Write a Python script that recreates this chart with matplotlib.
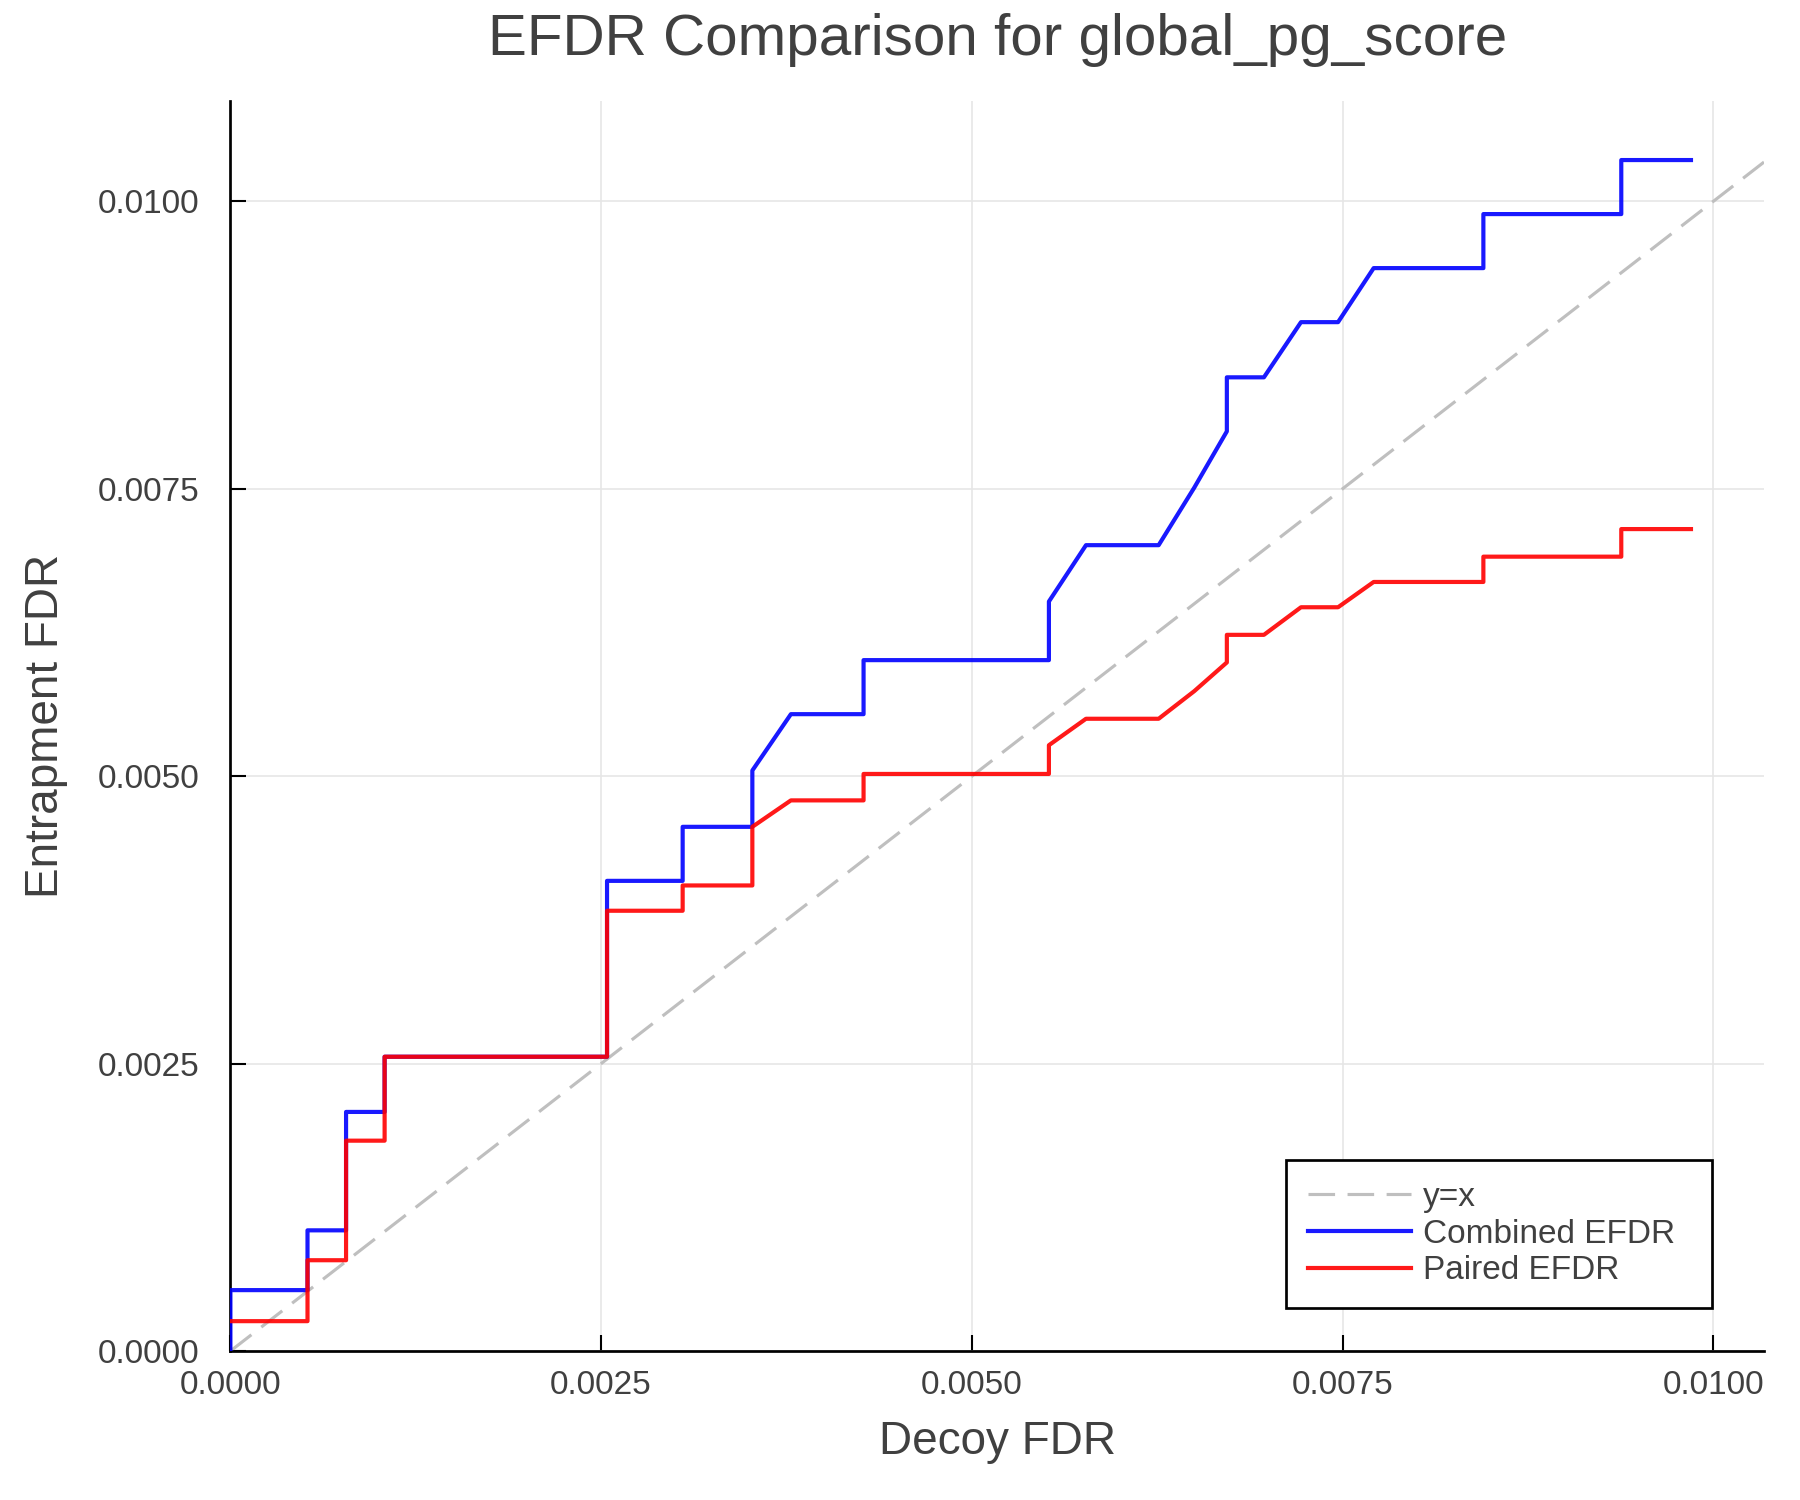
import matplotlib
matplotlib.use("Agg")
import matplotlib.pyplot as plt
import numpy as np

plt.rcParams['font.family'] = ['Liberation Sans', 'DejaVu Sans']

# data
combined_x = [0.0, 0.0, 0.00052, 0.00052, 0.00078, 0.00078, 0.00104, 0.00104,
              0.00254, 0.00254, 0.00305, 0.00305, 0.00352, 0.00352, 0.00378,
              0.00427, 0.00427, 0.00552, 0.00552, 0.00577, 0.00626, 0.00650,
              0.00672, 0.00672, 0.00697, 0.00722, 0.00747, 0.00771, 0.00845,
              0.00845, 0.00938, 0.00938, 0.00985]
combined_y = [0.0, 0.00053, 0.00053, 0.00105, 0.00105, 0.00208, 0.00208, 0.00256,
              0.00256, 0.00409, 0.00409, 0.00456, 0.00456, 0.00505, 0.00554,
              0.00554, 0.00601, 0.00601, 0.00652, 0.00701, 0.00701, 0.00751,
              0.00800, 0.00847, 0.00847, 0.00895, 0.00895, 0.00942, 0.00942,
              0.00989, 0.00989, 0.01036, 0.01036]

paired_x = [0.0, 0.00052, 0.00052, 0.00078, 0.00078, 0.00104, 0.00104, 0.00254,
            0.00254, 0.00305, 0.00305, 0.00352, 0.00352, 0.00378, 0.00427,
            0.00427, 0.00552, 0.00552, 0.00577, 0.00626, 0.00650, 0.00672,
            0.00672, 0.00697, 0.00722, 0.00747, 0.00771, 0.00845, 0.00845,
            0.00938, 0.00938, 0.00985]
paired_y = [0.00026, 0.00026, 0.00079, 0.00079, 0.00183, 0.00183, 0.00256, 0.00256,
            0.00383, 0.00383, 0.00405, 0.00405, 0.00456, 0.00479, 0.00479,
            0.00502, 0.00502, 0.00527, 0.00550, 0.00550, 0.00574, 0.00599,
            0.00623, 0.00623, 0.00647, 0.00647, 0.00669, 0.00669, 0.00691,
            0.00691, 0.00715, 0.00715]

ticks = [0.0, 0.0025, 0.005, 0.0075, 0.01]
tick_labels = ["0.0000", "0.0025", "0.0050", "0.0075", "0.0100"]

xmax = max(combined_x) * 1.05
ymax = max(combined_y) * 1.05
diag = [0.0, xmax]

txt = '#404040'

fig = plt.figure(figsize=(12, 10), dpi=150)
ax = fig.add_axes([0.128, 0.0993, 0.852, 0.8337])

ax.grid(True, color='#e6e6e6', lw=0.8, zorder=0)
ref, = ax.plot(diag, diag, color='#bfbfbf', lw=1.5, label='y=x', zorder=2)
ref.set_dashes([8.5, 4.0])
ax.plot(combined_x, combined_y, color='blue', alpha=0.9, lw=2.0,
        label='Combined EFDR', zorder=3)
ax.plot(paired_x, paired_y, color='red', alpha=0.9, lw=2.0,
        label='Paired EFDR', zorder=4)

ax.set_xlim(0, xmax)
ax.set_ylim(0, ymax)
ax.set_xticks(ticks)
ax.set_xticklabels(tick_labels)
ax.set_yticks(ticks)
ax.set_yticklabels(tick_labels)

for side in ['top', 'right']:
    ax.spines[side].set_visible(False)
for side in ['left', 'bottom']:
    ax.spines[side].set_linewidth(1.3)
ax.tick_params(axis='both', direction='in', length=7.5, width=1.0,
               labelsize=16, labelcolor=txt)
ax.tick_params(axis='x', pad=9)
ax.tick_params(axis='y', pad=15)

ax.set_xlabel('Decoy FDR', fontsize=22, color=txt, labelpad=9)
ax.set_ylabel('Entrapment FDR', fontsize=22, color=txt, labelpad=14)
ax.set_title('EFDR Comparison for global_pg_score', fontsize=28, color=txt, pad=22)

leg = ax.legend(loc='lower left', bbox_to_anchor=(0.6885, 0.0343, 0.2775, 0.12),
                mode='expand', borderaxespad=0, fontsize=16, fancybox=False,
                framealpha=1, edgecolor='black', handlelength=3.1,
                labelspacing=0.17, borderpad=0.65, handletextpad=0.35)
leg.get_frame().set_linewidth(1.3)
for t in leg.get_texts():
    t.set_color(txt)

fig.savefig('out.png', dpi=150)
